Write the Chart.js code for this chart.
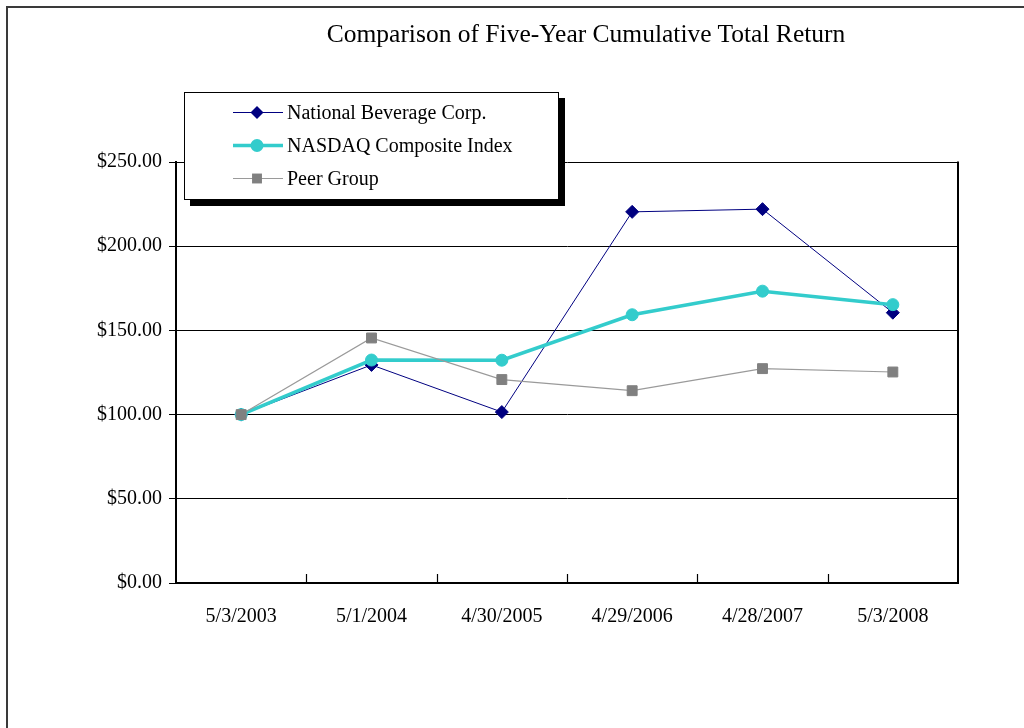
<!DOCTYPE html>
<html>
<head>
<meta charset="utf-8">
<script src="https://cdn.jsdelivr.net/npm/chart.js@4.4.1/dist/chart.umd.min.js"></script>
<style>
  html, body { margin: 0; padding: 0; background: #fff; overflow: hidden; }
  #wrap { position: relative; width: 1024px; height: 728px; overflow: hidden; background: #fff; }
  #frame { position: absolute; left: 6px; top: 6px; width: 1200px; height: 900px;
           border-left: 2px solid #3a3a3a; border-top: 2px solid #3a3a3a; }
  #c { position: absolute; left: 0; top: 0; }
  #title { position: absolute; left: 586px; top: 19px; transform: translateX(-50%);
           font-family: "Liberation Serif", "Times New Roman", serif; font-size: 25.5px;
           color: #000; white-space: nowrap; line-height: 30px; }
  #legend { position: absolute; left: 184px; top: 92px; width: 373px; height: 106px;
            border: 1px solid #000; background: #fff; box-shadow: 6px 6px 0 #000;
            font-family: "Liberation Serif", "Times New Roman", serif; font-size: 20px; color: #000; }
  .row { position: absolute; left: 0; height: 33px; line-height: 33px; white-space: nowrap; }
  .row svg { position: absolute; left: 48px; top: 0; }
  .row span { position: absolute; left: 102px; top: 0; }
</style>
</head>
<body>
<div id="wrap">
  <div id="frame"></div>
  <canvas id="c" width="1024" height="728"></canvas>
  <div id="title">Comparison of Five-Year Cumulative Total Return</div>
  <div id="legend"></div>
</div>
<script>
// ---- data ----
const categories = ["5/3/2003", "5/1/2004", "4/30/2005", "4/29/2006", "4/28/2007", "5/3/2008"];
const seriesNames = ["National Beverage Corp.", "NASDAQ Composite Index", "Peer Group"];
const nationalBeverage = [100.00, 129.5, 101.5, 220.4, 222.0, 160.5];
const nasdaqComposite = [100.00, 132.4, 132.3, 159.3, 173.3, 165.3];
const peerGroup = [100.00, 145.5, 120.8, 114.2, 127.3, 125.3];
const yTickValues = [0, 50, 100, 150, 200, 250];
const yTickLabels = ["$0.00", "$50.00", "$100.00", "$150.00", "$200.00", "$250.00"];

// ---- styles ----
const styles = [
  { color: "#000080", lineWidth: 1, point: "rectRot", radius: 6.5, markerColor: "#000080" },
  { color: "#33CCCC", lineWidth: 3.5, point: "circle", radius: 6, markerColor: "#33CCCC" },
  { color: "#9a9a9a", lineWidth: 1.2, point: "rect", radius: 7, markerColor: "#808080" }
];
const seriesData = [nationalBeverage, nasdaqComposite, peerGroup];
const drawOrder = [2, 1, 0];

const FONT = "'Liberation Serif', 'Times New Roman', serif";

const plotExtras = {
  id: "plotExtras",
  afterDraw(chart) {
    const ctx = chart.ctx;
    const a = chart.chartArea;
    const x = chart.scales.x;
    ctx.save();
    ctx.strokeStyle = "#000";
    // right border of plot
    ctx.lineWidth = 2;
    ctx.beginPath();
    ctx.moveTo(a.right, a.top - 0.5);
    ctx.lineTo(a.right, a.bottom + 1);
    ctx.stroke();
    // inward category-boundary ticks
    ctx.lineWidth = 1.2;
    for (let i = 1; i < categories.length; i++) {
      const px = Math.round((x.getPixelForValue(i - 1) + x.getPixelForValue(i)) / 2) + 0.5;
      ctx.beginPath();
      ctx.moveTo(px, a.bottom);
      ctx.lineTo(px, a.bottom - 9);
      ctx.stroke();
    }
    ctx.restore();
  }
};

new Chart(document.getElementById("c"), {
  type: "line",
  data: {
    labels: categories,
    datasets: seriesNames.map((name, i) => ({
      label: name,
      data: seriesData[i],
      borderColor: styles[i].color,
      backgroundColor: styles[i].markerColor,
      borderWidth: styles[i].lineWidth,
      pointStyle: styles[i].point,
      pointRadius: styles[i].radius,
      pointBorderWidth: 1,
      pointBorderColor: styles[i].markerColor,
      pointBackgroundColor: styles[i].markerColor,
      tension: 0,
      fill: false,
      order: drawOrder[i]
    }))
  },
  options: {
    responsive: false,
    animation: false,
    events: [],
    layout: { padding: { left: 0, right: 66, top: 162, bottom: 0 } },
    plugins: { legend: { display: false }, title: { display: false }, tooltip: { enabled: false } },
    scales: {
      x: {
        type: "category",
        offset: true,
        grid: { display: true, drawOnChartArea: false, drawTicks: false, offset: true },
        border: { display: true, color: "#000", width: 2 },
        ticks: { color: "#000", font: { family: FONT, size: 20 }, padding: 22, maxRotation: 0, autoSkip: false },
        afterFit(scale) { scale.height = 145; }
      },
      y: {
        min: 0,
        max: 250,
        afterBuildTicks(scale) { scale.ticks = yTickValues.map(v => ({ value: v })); },
        grid: { color: "#000", lineWidth: 1, drawTicks: true, tickLength: 7 },
        border: { display: true, color: "#000", width: 2 },
        ticks: {
          color: "#000",
          font: { family: FONT, size: 20 },
          padding: 7,
          callback: (v) => yTickLabels[yTickValues.indexOf(v)]
        },
        afterFit(scale) { scale.width = 176; }
      }
    }
  },
  plugins: [plotExtras]
});

// ---- legend (HTML) ----
const legend = document.getElementById("legend");
const rowTops = [3, 36, 69];
seriesNames.forEach((name, i) => {
  const s = styles[i];
  const row = document.createElement("div");
  row.className = "row";
  row.style.top = rowTops[i] + "px";
  let marker = "";
  const cx = 24, cy = 16.5;
  if (s.point === "rectRot") {
    const r = s.radius;
    marker = `<polygon points="${cx},${cy - r} ${cx + r},${cy} ${cx},${cy + r} ${cx - r},${cy}" fill="${s.markerColor}"/>`;
  } else if (s.point === "circle") {
    marker = `<circle cx="${cx}" cy="${cy}" r="${s.radius + 0.5}" fill="${s.markerColor}"/>`;
  } else {
    const h = s.radius * Math.SQRT1_2;
    marker = `<rect x="${cx - h}" y="${cy - h}" width="${2 * h}" height="${2 * h}" fill="${s.markerColor}"/>`;
  }
  row.innerHTML = `<svg width="52" height="33"><line x1="0" y1="${cy}" x2="50" y2="${cy}" stroke="${s.color}" stroke-width="${s.lineWidth}"/>${marker}</svg><span>${name}</span>`;
  legend.appendChild(row);
});
</script>
</body>
</html>
